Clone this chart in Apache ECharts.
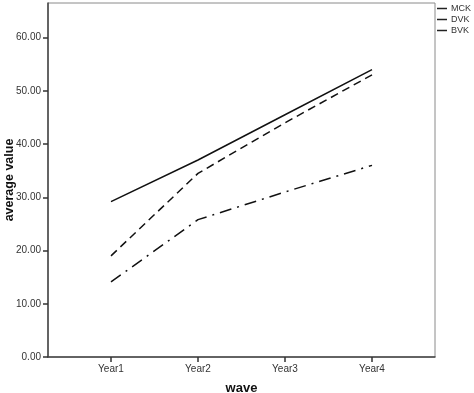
<!DOCTYPE html>
<html>
<head>
<meta charset="utf-8">
<script src="https://cdn.jsdelivr.net/npm/echarts@6/dist/echarts.min.js"></script>
<style>
html, body { margin: 0; padding: 0; background: #fff; }
#chart { width: 474px; height: 393px; }
</style>
</head>
<body>
<div id="chart"></div>
<script>
var years = ['Year1', 'Year2', 'Year3', 'Year4'];
var mck = [29.2, 37.0, 45.5, 54.0];
var dvk = [19.0, 34.5, 44.0, 53.0];
var bvk = [14.1, 25.8, 31.0, 36.0];
var yTicks = [0, 10, 20, 30, 40, 50, 60];

function toPoints(vals) {
	return vals.map(function (v, i) { return [i + 1, v]; });
}

var pos = years.map(function (y, i) { return i + 1; });

function lineSeries(name, vals, dash) {
	return {
		name: name,
		type: 'line',
		symbol: 'none',
		data: toPoints(vals),
		itemStyle: { color: '#222' },
		lineStyle: { color: '#111', width: 1.5, type: dash },
		emphasis: { disabled: true }
	};
}

var myChart = echarts.init(document.getElementById('chart'));
var option = {
	animation: false,
	textStyle: { fontFamily: 'Liberation Sans, Arial, sans-serif' },
	grid: {
		left: 48, right: 39, top: 3, bottom: 36,
		outerBoundsMode: 'none',
		containLabel: false,
		show: true, borderColor: '#8a8a8a', borderWidth: 1
	},
	legend: {
		left: 437, top: 4, padding: 0,
		orient: 'vertical',
		icon: 'rect',
		itemWidth: 10, itemHeight: 1.5, itemGap: 2,
		textStyle: { fontSize: 9, color: '#333', padding: [0, 0, 0, -1] },
		data: ['MCK', 'DVK', 'BVK']
	},
	xAxis: {
		type: 'value',
		min: 0.276, max: 4.724,
		name: 'wave',
		nameLocation: 'middle',
		nameGap: 25,
		nameMoveOverlap: false,
		nameTextStyle: { fontWeight: 'bold', fontSize: 13, color: '#111' },
		splitLine: { show: false },
		axisLine: { lineStyle: { color: '#444', width: 1.5 } },
		axisTick: { customValues: pos, length: 5, lineStyle: { color: '#333', width: 1.5 } },
		axisLabel: {
			customValues: pos, fontSize: 10, color: '#333', margin: 7,
			formatter: function (v) { return years[v - 1]; }
		}
	},
	yAxis: {
		type: 'value',
		min: 0, max: 66.5, interval: 10,
		name: 'average value',
		nameLocation: 'middle',
		nameGap: 32,
		nameMoveOverlap: false,
		nameTextStyle: { fontWeight: 'bold', fontSize: 12.5, color: '#111' },
		splitLine: { show: false },
		axisLine: { show: true, lineStyle: { color: '#444', width: 1.5 } },
		axisTick: { show: true, customValues: yTicks, length: 5, lineStyle: { color: '#333', width: 1.5 } },
		axisLabel: {
			customValues: yTicks, fontSize: 10, color: '#333', margin: 7,
			formatter: function (v) { return v.toFixed(2); }
		}
	},
	series: [
		lineSeries('MCK', mck, 'solid'),
		lineSeries('DVK', dvk, [8, 5]),
		lineSeries('BVK', bvk, [12, 6, 2, 6])
	]
};
myChart.setOption(option);
</script>
</body>
</html>
